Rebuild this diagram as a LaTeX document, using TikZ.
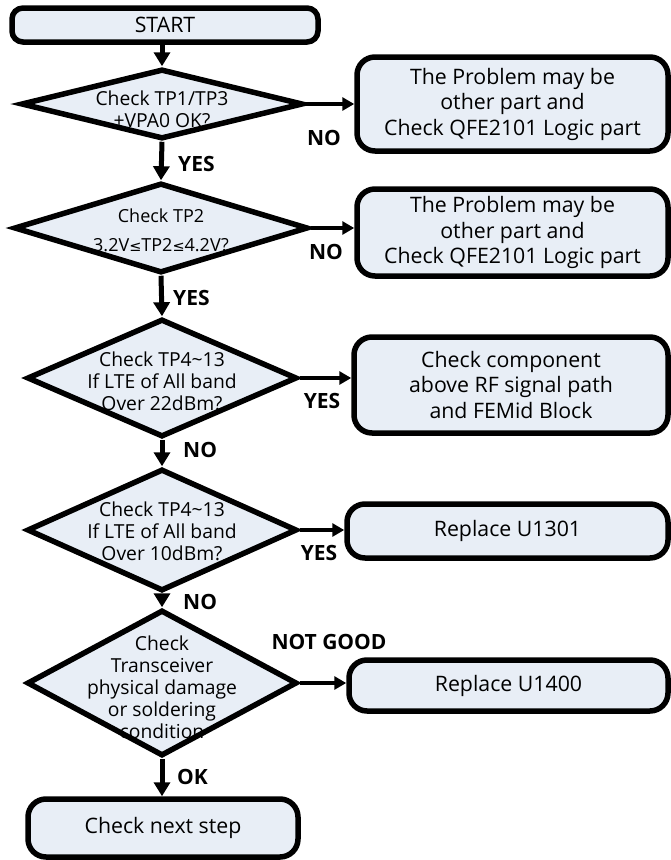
\documentclass[tikz,border=0pt]{standalone}
\usepackage{fontspec}
\setmainfont{Open Sans}
\newfontfamily\symfont{DejaVu Sans}
\newfontfamily\lblfont{Open Sans Bold}
\usetikzlibrary{shapes.geometric,arrows.meta}
\definecolor{boxfill}{RGB}{232,238,246}
\newcommand{\leqs}{{\symfont\fontsize{14.5}{22}\selectfont ≤}}
\begin{document}
\begin{tikzpicture}[x=1pt,y=-1pt,
  box/.style={draw=black, line width=5.5pt, fill=boxfill, rounded corners=18pt, inner sep=0pt, align=center, font=\fontsize{21.3}{25.5}\selectfont},
  dia/.style={draw=black, line width=5.5pt, fill=boxfill, diamond, inner sep=0pt},
  dtxt/.style={align=center, inner sep=0pt, font=\fontsize{19.3}{22}\selectfont},
  lbl/.style={font=\lblfont\fontsize{21}{24}\selectfont, inner sep=0pt},
  varrow/.style={line width=5pt, -{Triangle[length=14pt,width=16pt]}},
  harrow/.style={line width=3.5pt, -{Triangle[length=12pt,width=13pt]}}]
\useasboundingbox (0,0) rectangle (671,860);
% main column
\node[box, rounded corners=11pt, minimum width=306pt, minimum height=34pt] (start) at (165,25) {START};
\node[dia, minimum width=282pt, minimum height=70pt] (d1) at (162,104) {};
\node[dtxt] (d1t) at (162,109) {Check TP1/TP3\\+VPA0 OK?};
\node[dia, minimum width=294pt, minimum height=90pt] (d2) at (161,228) {};
\node[dtxt, font=\fontsize{18}{29}\selectfont] (d2t) at (161,230) {Check TP2\\3.2V\leqs TP2\leqs 4.2V?};
\node[dia, minimum width=270pt, minimum height=118pt] (d3) at (162,378) {};
\node[dtxt] (d3t) at (162,381) {Check TP4\textasciitilde13\\If LTE of All band\\Over 22dBm?};
\node[dia, minimum width=270pt, minimum height=122pt] (d4) at (162,530) {};
\node[dtxt] (d4t) at (162,531) {Check TP4\textasciitilde13\\If LTE of All band\\Over 10dBm?};
\node[dia, minimum width=270pt, minimum height=146pt] (d5) at (162,683) {};
\node[dtxt] (d5t) at (162,687) {Check\\Transceiver\\physical damage\\or soldering\\condition};
\node[box, minimum width=270pt, minimum height=58pt] (endb) at (163,828) {Check next step};
% right column
\node[box, minimum width=311pt, minimum height=94pt] (b1) at (512.5,104) {The Problem may be\\other part and\\Check QFE2101 Logic part};
\node[box, minimum width=311pt, minimum height=87pt] (b2) at (512.5,232.5) {The Problem may be\\other part and\\Check QFE2101 Logic part};
\node[box, minimum width=314pt, minimum height=96pt] (b3) at (511,385) {Check component\\above RF signal path\\and FEMid Block};
\node[box, minimum width=321pt, minimum height=54pt] (b4) at (507.5,531) {Replace U1301};
\node[box, minimum width=319pt, minimum height=51pt] (b5) at (508.5,685.5) {Replace U1400};
% vertical arrows
\draw[varrow] (start.south -| d1.north) -- (d1.north);
\draw[varrow] (d1.south) -- (d2.north);
\draw[varrow] (d2.south) -- (d3.north);
\draw[varrow] (d3.south) -- (d4.north);
\draw[varrow] (d4.south) -- (d5.north);
\draw[varrow] (d5.south) -- (d5.south |- endb.north);
% horizontal arrows
\draw[harrow] (d1.east) -- (d1.east -| b1.west);
\draw[harrow] (d2.east) -- (d2.east -| b2.west);
\draw[harrow] (d3.east) -- (d3.east -| b3.west);
\draw[harrow] (d4.east) -- (d4.east -| b4.west);
\draw[harrow] (d5.east) -- (d5.east -| b5.west);
% labels
\node[lbl, anchor=west] (l1) at (178,164) {YES};
\node[lbl, anchor=west] (l2) at (173,298) {YES};
\node[lbl, anchor=west] (l3) at (183,450) {NO};
\node[lbl, anchor=west] (l4) at (183,602) {NO};
\node[lbl, anchor=west] (l5) at (177,777) {OK};
\node[lbl] (r1) at (324,138) {NO};
\node[lbl] (r2) at (326,252) {NO};
\node[lbl] (r3) at (322,401) {YES};
\node[lbl] (r4) at (319,553) {YES};
\node[lbl] (r5) at (329,642) {NOT GOOD};
\end{tikzpicture}
\end{document}
